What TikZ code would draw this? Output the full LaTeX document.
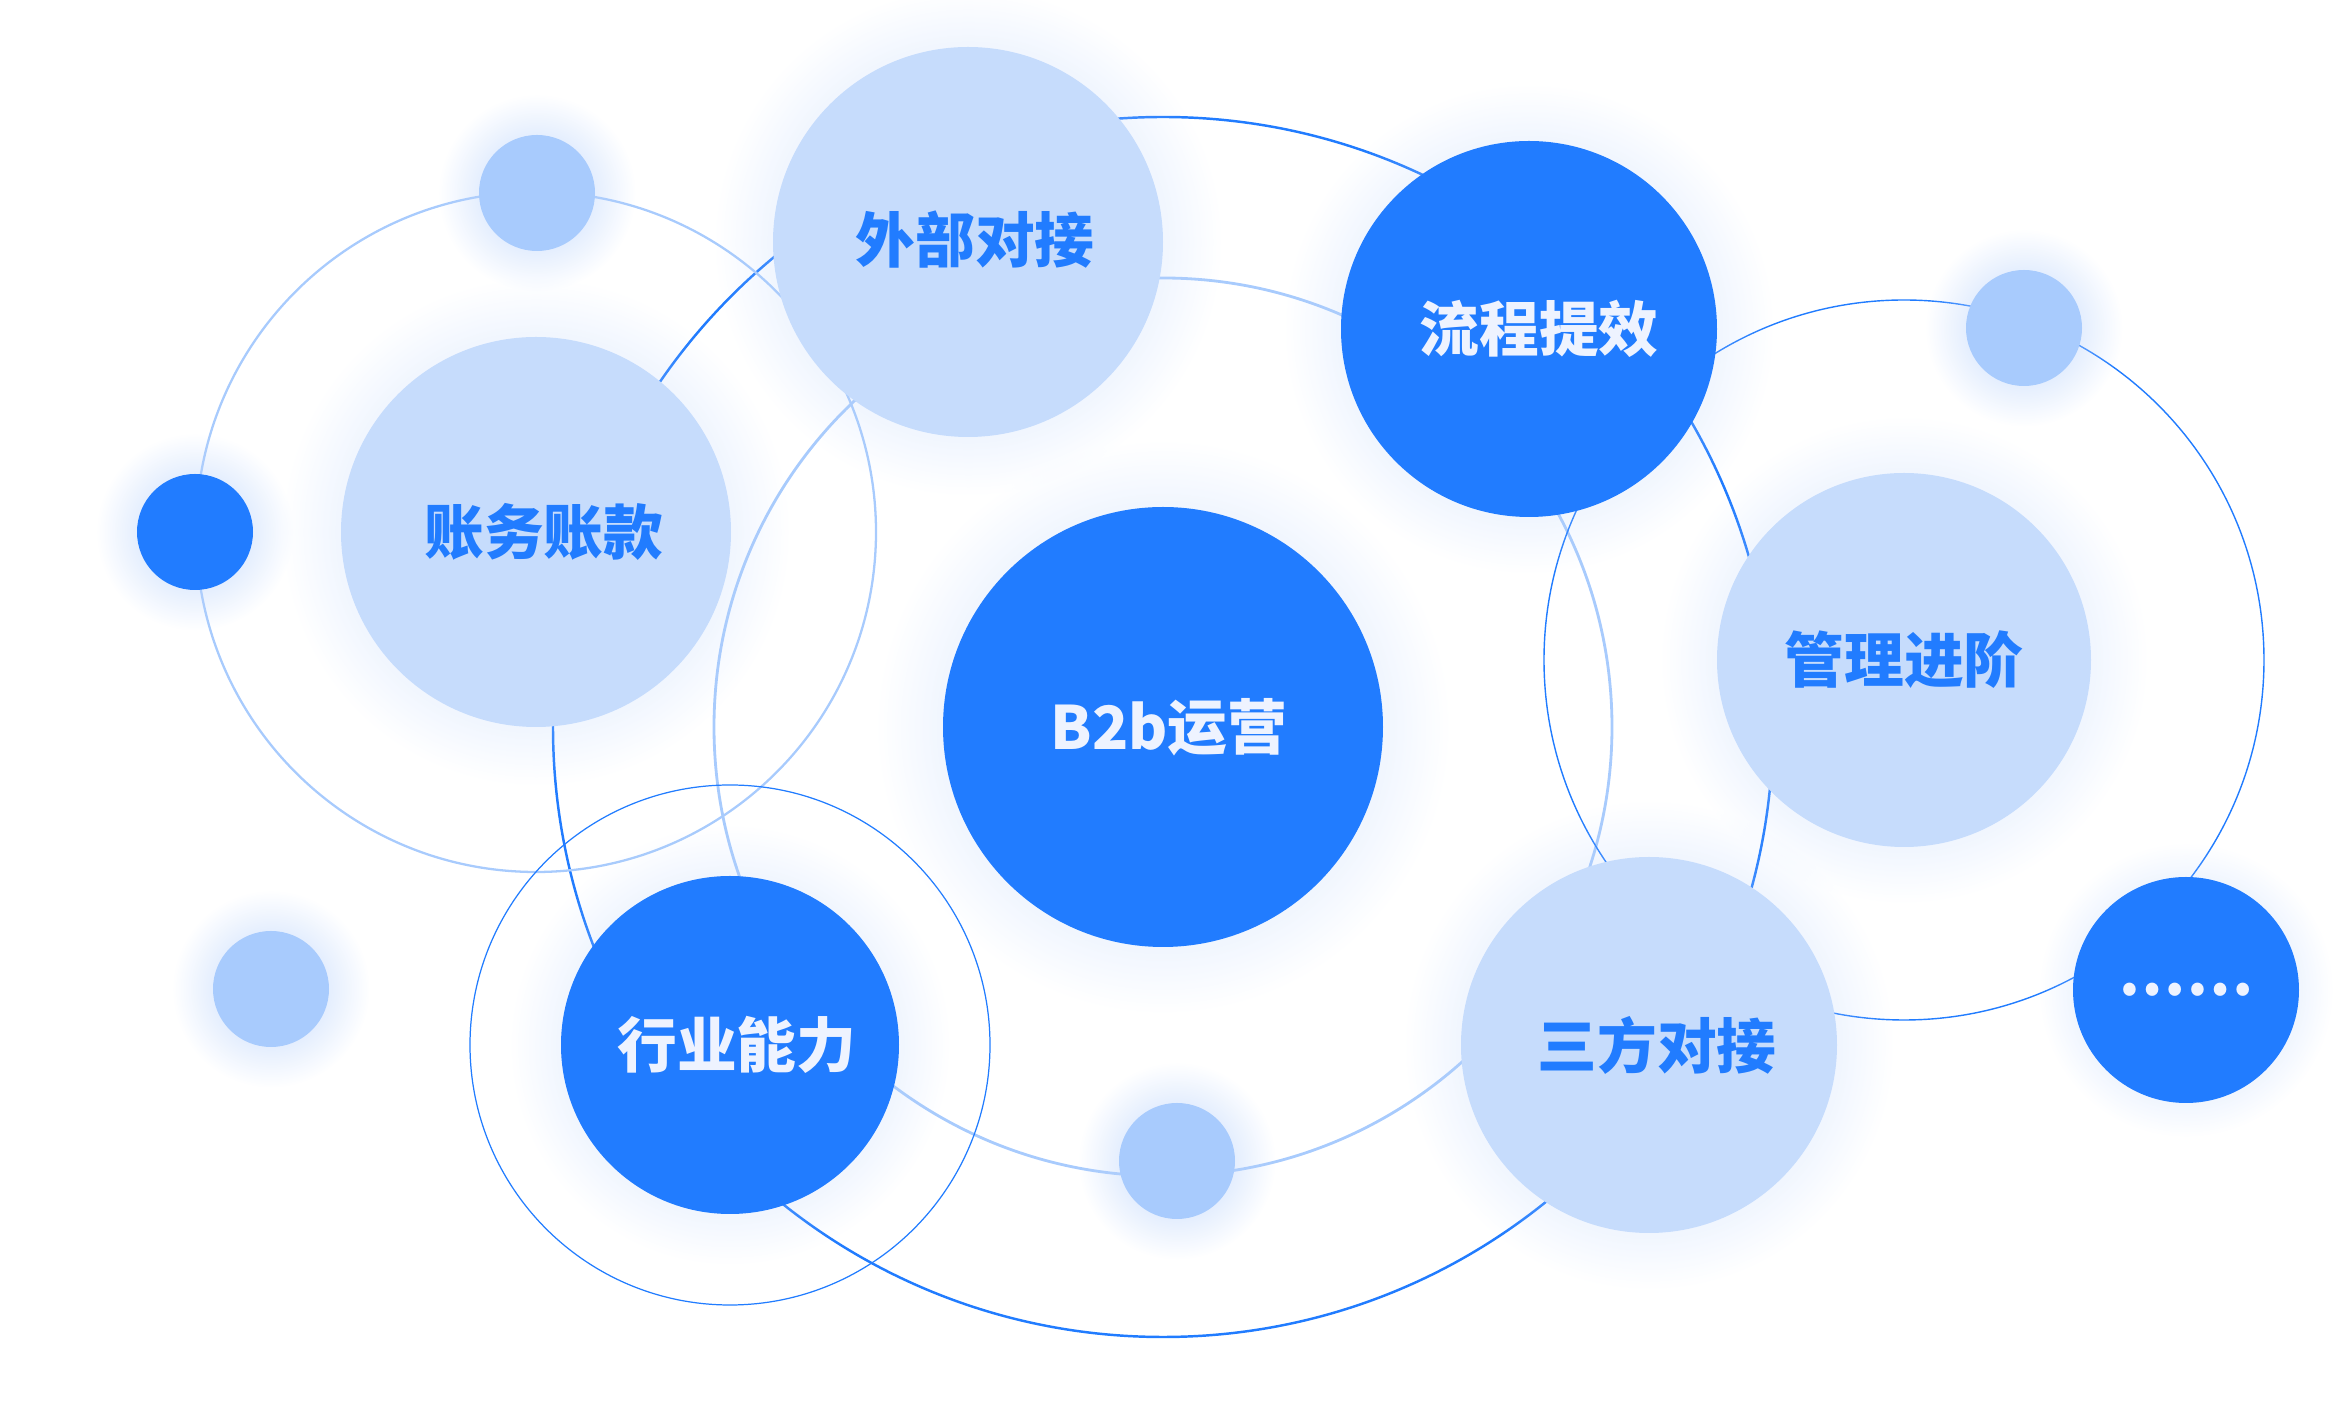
\documentclass[tikz,border=0pt]{standalone}
\usepackage{fontspec}
\setmainfont{Noto Sans CJK SC}
\usetikzlibrary{shadows,fadings,backgrounds}

\definecolor{deepblue}{HTML}{217CFF}
\definecolor{paleblue}{HTML}{C6DCFC}
\definecolor{moonblue}{HTML}{A8CBFD}
\definecolor{glowblue}{HTML}{B8D2FC}
\definecolor{snow}{HTML}{EEF3FF}

\tikzfading[name=halo, inner color=transparent!0, outer color=transparent!100]

\tikzset{
  ball/.style={circle, inner sep=0pt, font=\bfseries\fontsize{17}{20}\selectfont,
    circular glow={fill=glowblue, opacity=0.9, shadow scale=1.3, path fading=halo}},
  hub/.style={ball, fill=deepblue, text=snow},
  bubble/.style={ball, fill=paleblue, text=deepblue},
  dot/.style={circle, inner sep=0pt, minimum size=11.6mm, fill=deepblue,
    circular glow={fill=glowblue, opacity=0.9, shadow scale=1.7, path fading=halo}},
  moon/.style={dot, fill=moonblue},
  ring dark/.style={draw=deepblue, line width=0.7pt},
  ring light/.style={draw=moonblue, line width=0.8pt},
  ring fine/.style={draw=deepblue, line width=0.4pt}
}

\begin{document}
\begin{tikzpicture}[x=0.1mm, y=-0.1mm]
  \useasboundingbox (0,0) rectangle (2346,1417);

  % main circles
  \node[hub, minimum size=44mm]   (core)  at (1163,727)  {\hspace*{1.2mm}B2b运营};
  \node[hub, minimum size=37.6mm] (flow)  at (1529,329)  {\hspace*{2mm}流程提效};
  \node[hub, minimum size=33.8mm] (trade) at (730,1045)  {\hspace*{1.4mm}行业能力};
  \node[hub, minimum size=22.6mm] (more)  at (2186,990)  {\raisebox{-0.9mm}{……}};
  \node[bubble, minimum size=39mm]   (ext)   at (968,242)   {\hspace*{1.4mm}\raisebox{1.1mm}{外部对接}};
  \node[bubble, minimum size=39mm]   (acct)  at (536,532)   {\hspace*{1.6mm}账务账款};
  \node[bubble, minimum size=37.4mm] (mgmt)  at (1904,660)  {管理进阶};
  \node[bubble, minimum size=37.6mm] (third) at (1649,1045) {\hspace*{1.6mm}三方对接};

  % small dots
  \node[dot]  (dot-w)   at (195,532)  {};
  \node[moon] (moon-n)  at (537,193)  {};
  \node[moon] (moon-sw) at (271,989)  {};
  \node[moon] (moon-s)  at (1177,1161) {};
  \node[moon] (moon-e)  at (2024,328) {};

  % orbits
  \begin{scope}[on background layer]
    \draw[ring dark]  (core.center) circle[radius=610];
    \draw[ring light] (core.center) circle[radius=449];
    \draw[ring light, line width=0.65pt] (acct.center) circle[radius=340];
    \draw[ring fine]  (mgmt.center) circle[radius=360];
    \draw[ring fine, line width=0.35pt] (trade.center) circle[radius=260];
  \end{scope}
\end{tikzpicture}
\end{document}
